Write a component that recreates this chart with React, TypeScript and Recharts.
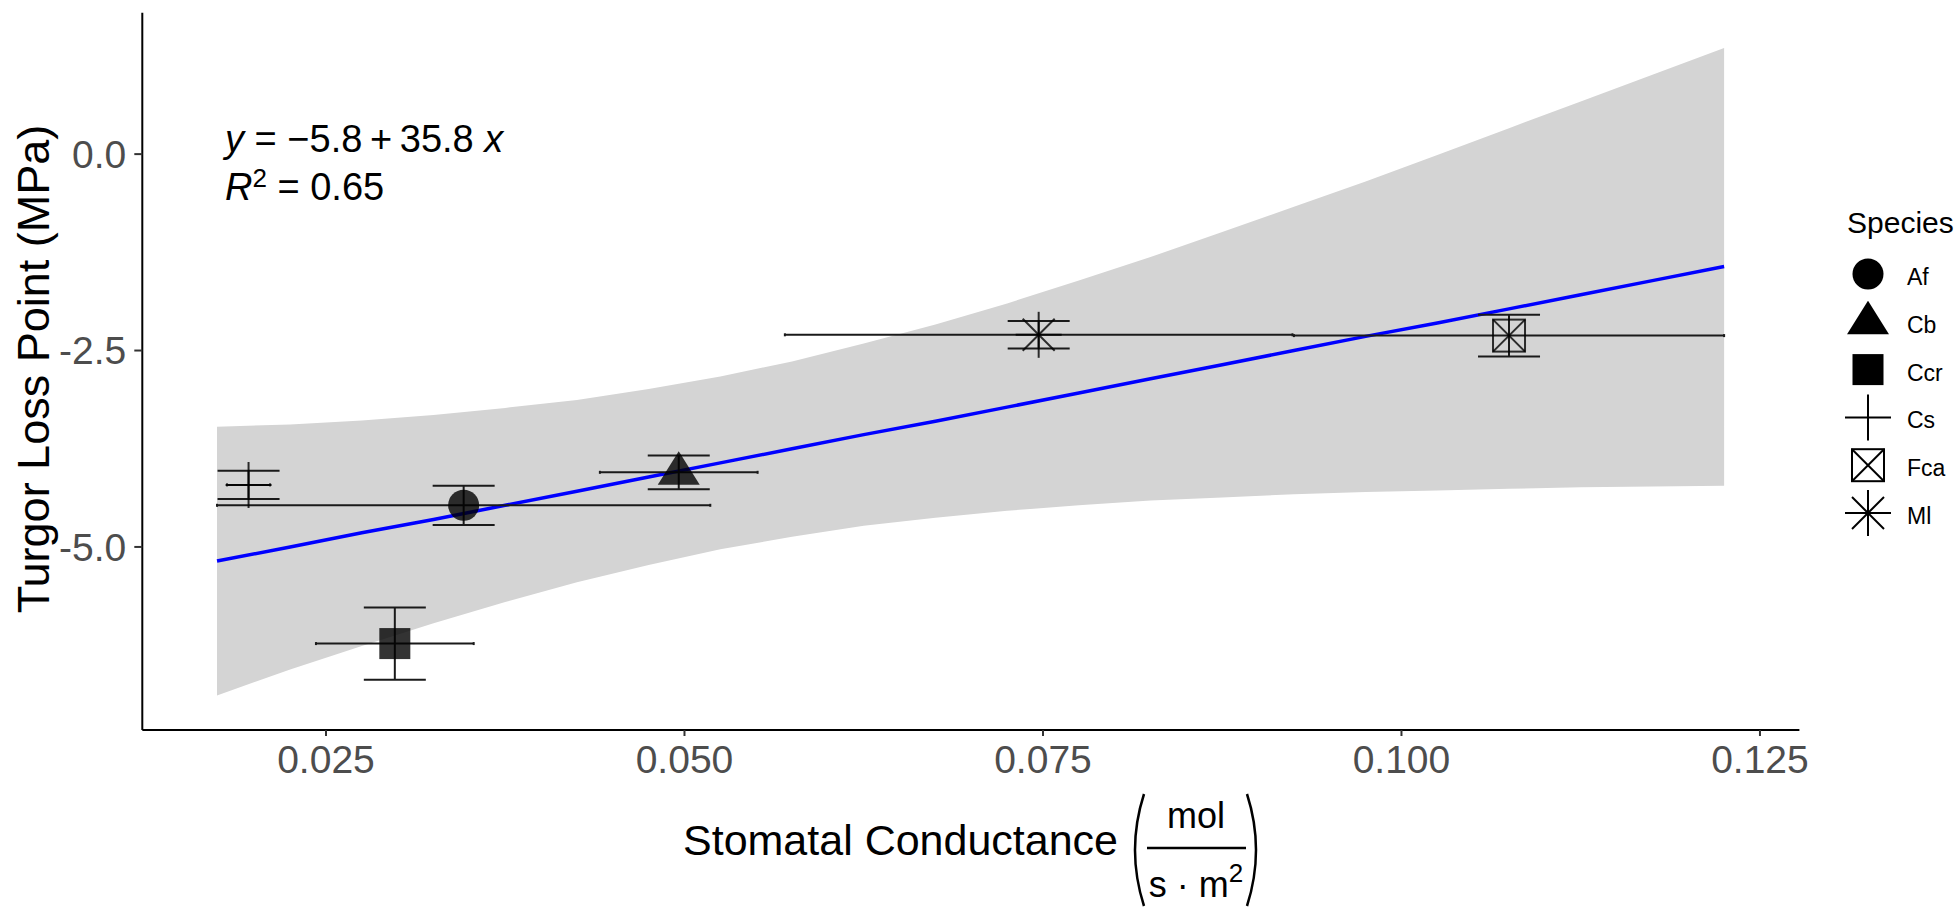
import React from 'react';
import { ComposedChart, Area, Line, Scatter, ErrorBar, XAxis, YAxis } from 'recharts';

// species means with standard errors
const species = ['Af', 'Cb', 'Ccr', 'Cs', 'Fca', 'Ml'];
const meanCond = [0.0346, 0.0496, 0.0298, 0.0196, 0.1075, 0.0747];
const meanTlp = [-4.47, -4.05, -6.23, -4.21, -2.31, -2.3];
const seCond = [0.0172, 0.0055, 0.0055, 0.0015, 0.015, 0.0177];
const seTlp = [0.25, 0.215, 0.46, 0.18, 0.265, 0.175];

// fitted line and its confidence band
const fitCond = [
  0.0174, 0.0225, 0.0275, 0.0325, 0.0375, 0.0425, 0.0475, 0.0525, 0.0575, 0.0625, 0.0675,
  0.0725, 0.0775, 0.0825, 0.0875, 0.0925, 0.0975, 0.1025, 0.1075, 0.1125, 0.1175, 0.1225,
];
const fitTlp = [
  -5.18, -5.0, -4.82, -4.65, -4.47, -4.29, -4.11, -3.93, -3.75, -3.57, -3.4,
  -3.22, -3.04, -2.86, -2.68, -2.5, -2.32, -2.15, -1.97, -1.79, -1.61, -1.43,
];
const bandLow = [
  -6.89, -6.56, -6.26, -5.97, -5.7, -5.45, -5.23, -5.03, -4.87, -4.73, -4.63,
  -4.54, -4.47, -4.41, -4.37, -4.33, -4.3, -4.28, -4.26, -4.24, -4.23, -4.22,
];
const bandHigh = [
  -3.47, -3.44, -3.39, -3.32, -3.23, -3.13, -2.99, -2.83, -2.64, -2.41, -2.17,
  -1.9, -1.61, -1.31, -0.99, -0.67, -0.35, -0.01, 0.33, 0.67, 1.01, 1.35,
];

const xTicks = [0.025, 0.05, 0.075, 0.1, 0.125];
const yTicks = [-5, -2.5, 0];

const FONT = '"Liberation Sans", Arial, Helvetica, sans-serif';

const bandData = fitCond.map((x, i) => ({ x, band: [bandLow[i], bandHigh[i]], fit: fitTlp[i] }));

const Marker = ({ kind, cx, cy, op = 0.8 }: { kind: string; cx: number; cy: number; op?: number }) => {
  const line = { stroke: '#000', strokeOpacity: op, strokeWidth: 2, fill: 'none' };
  switch (kind) {
    case 'Af':
      return <circle cx={cx} cy={cy} r={15.5} fill="#000" fillOpacity={op} />;
    case 'Cb':
      return (
        <polygon
          points={`${cx},${cy - 21} ${cx - 21},${cy + 12.5} ${cx + 21},${cy + 12.5}`}
          fill="#000"
          fillOpacity={op}
        />
      );
    case 'Ccr':
      return <rect x={cx - 15.5} y={cy - 15.5} width={31} height={31} fill="#000" fillOpacity={op} />;
    case 'Cs':
      return (
        <g {...line}>
          <line x1={cx - 23} y1={cy} x2={cx + 23} y2={cy} />
          <line x1={cx} y1={cy - 23} x2={cx} y2={cy + 23} />
        </g>
      );
    case 'Fca':
      return (
        <g {...line}>
          <rect x={cx - 16} y={cy - 16} width={32} height={32} />
          <line x1={cx - 16} y1={cy - 16} x2={cx + 16} y2={cy + 16} />
          <line x1={cx - 16} y1={cy + 16} x2={cx + 16} y2={cy - 16} />
        </g>
      );
    default:
      return (
        <g {...line}>
          <line x1={cx - 23} y1={cy} x2={cx + 23} y2={cy} />
          <line x1={cx} y1={cy - 23} x2={cx} y2={cy + 23} />
          <line x1={cx - 16} y1={cy - 16} x2={cx + 16} y2={cy + 16} />
          <line x1={cx - 16} y1={cy + 16} x2={cx + 16} y2={cy - 16} />
        </g>
      );
  }
};

export default function App() {
  return (
    <div style={{ position: 'absolute', left: 0, top: 0, width: 1959, height: 914, background: '#fff' }}>
      <ComposedChart
        width={1959}
        height={914}
        data={bandData}
        margin={{ top: 12.7, right: 159.6, left: 0, bottom: 104 }}
      >
        <XAxis
          type="number"
          dataKey="x"
          domain={[0.01219, 0.12775]}
          ticks={xTicks}
          allowDataOverflow
          tickFormatter={(v: number) => v.toFixed(3)}
          height={80}
          tickSize={6}
          tickMargin={9}
          axisLine={{ stroke: '#000', strokeWidth: 2 }}
          tickLine={{ stroke: '#333', strokeWidth: 2 }}
          tick={{ fill: '#4d4d4d', fontSize: 39, fontFamily: FONT }}
        />
        <YAxis
          type="number"
          domain={[-7.33, 1.8]}
          ticks={yTicks}
          allowDataOverflow
          tickFormatter={(v: number) => v.toFixed(1)}
          width={142.3}
          tickSize={8}
          tickMargin={8}
          axisLine={{ stroke: '#000', strokeWidth: 2 }}
          tickLine={{ stroke: '#333', strokeWidth: 2 }}
          tick={{ fill: '#4d4d4d', fontSize: 39, fontFamily: FONT }}
        />
        <Area
          type="linear"
          dataKey="band"
          fill="#d4d4d4"
          fillOpacity={1}
          stroke="none"
          isAnimationActive={false}
          activeDot={false}
        />
        <Line
          type="linear"
          dataKey="fit"
          stroke="#0000ff"
          strokeWidth={3.5}
          dot={false}
          activeDot={false}
          isAnimationActive={false}
        />
        {species.map((sp, i) => (
          <Scatter
            key={sp}
            name={sp}
            data={[{ x: meanCond[i], y: meanTlp[i], ex: seCond[i], ey: seTlp[i] }]}
            dataKey="y"
            isAnimationActive={false}
            shape={(p: any) => <Marker kind={sp} cx={p.cx} cy={p.cy} />}
          >
            <ErrorBar dataKey="ey" direction="y" width={31} stroke="#1a1a1a" strokeWidth={2} isAnimationActive={false} />
            <ErrorBar dataKey="ex" direction="x" width={1.5} stroke="#1a1a1a" strokeWidth={2} isAnimationActive={false} />
          </Scatter>
        ))}
      </ComposedChart>

      <svg
        width={1959}
        height={914}
        style={{ position: 'absolute', left: 0, top: 0, pointerEvents: 'none' }}
        fontFamily={FONT}
      >
        {/* regression equation */}
        <text x={225} y={152} fontSize={38} fill="#000">
          <tspan fontStyle="italic">y</tspan>
          <tspan> = −5.8{'\u2009'}+{'\u2009'}35.8 </tspan>
          <tspan fontStyle="italic">x</tspan>
        </text>
        <text x={225} y={200} fontSize={38} fill="#000">
          <tspan fontStyle="italic">R</tspan>
          <tspan fontSize={26} dy={-13}>2</tspan>
          <tspan dy={13}> = 0.65</tspan>
        </text>

        {/* axis titles */}
        <text transform="translate(49,369) rotate(-90)" textAnchor="middle" fontSize={45} fill="#000">
          Turgor Loss Point (MPa)
        </text>
        <text x={683} y={855} fontSize={43} fill="#000">
          Stomatal Conductance
        </text>
        <path d="M 1144 794 Q 1126 850 1144 906" stroke="#000" strokeWidth={2.5} fill="none" />
        <path d="M 1247 794 Q 1265 850 1247 906" stroke="#000" strokeWidth={2.5} fill="none" />
        <text x={1196} y={828} fontSize={36} textAnchor="middle" fill="#000">mol</text>
        <line x1={1147} y1={848} x2={1246} y2={848} stroke="#000" strokeWidth={2.5} />
        <text x={1196} y={897} fontSize={36} textAnchor="middle" fill="#000">
          s · m<tspan fontSize={26} dy={-15}>2</tspan>
        </text>

        {/* legend */}
        <text x={1847} y={233} fontSize={30} fill="#000">Species</text>
        {species.map((sp, i) => {
          const cy = 274 + i * 47.8;
          return (
            <g key={sp}>
              <Marker kind={sp} cx={1868} cy={cy} op={1} />
              <text x={1907} y={cy + 11} fontSize={23} fill="#000">{sp}</text>
            </g>
          );
        })}
      </svg>
    </div>
  );
}
